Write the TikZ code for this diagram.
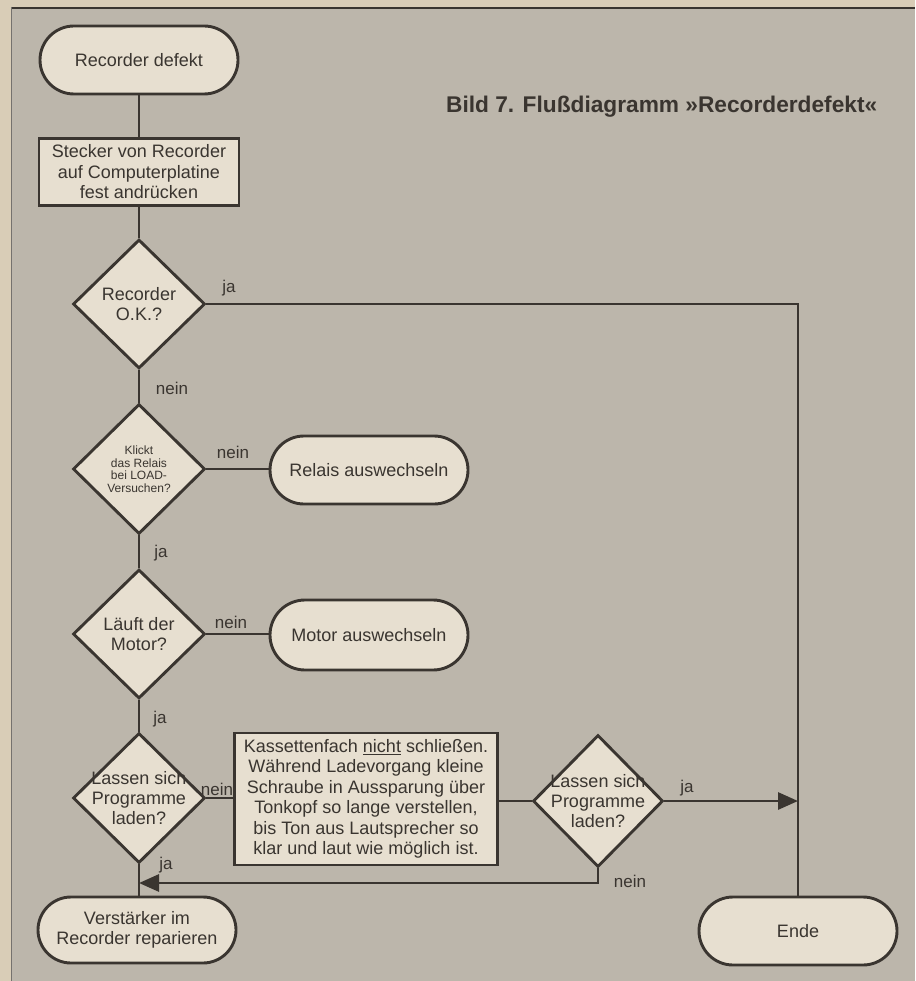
\documentclass[tikz,border=0pt]{standalone}
\usepackage{fontspec}
\setmainfont{Liberation Sans}
\usetikzlibrary{shapes.geometric,arrows.meta}
\definecolor{paper}{HTML}{D9CDB7}
\definecolor{panel}{HTML}{BCB6AB}
\definecolor{boxfill}{HTML}{E7DFD0}
\definecolor{ink}{HTML}{3A3530}
\tikzset{
  base/.style={draw=ink, line width=2.9pt, fill=boxfill, text=ink, align=center, inner sep=0pt},
  term/.style={base, rectangle, rounded corners=34pt, minimum width=198pt, minimum height=68pt, font=\fontsize{18}{20}\selectfont},
  procbox/.style={base, rectangle, font=\fontsize{18}{20.5}\selectfont},
  dia/.style={base, diamond, minimum width=132pt, minimum height=129pt},
  dtext/.style={text=ink, align=center, inner sep=0pt, font=\fontsize{18}{20}\selectfont},
  dsmall/.style={text=ink, align=center, inner sep=0pt, font=\fontsize{12}{12.5}\selectfont},
  lbl/.style={text=ink, inner sep=0pt, font=\fontsize{17}{19}\selectfont},
  conn/.style={draw=ink, line width=2.9pt},
  arr/.style={conn, -{Triangle[length=20pt,width=17pt]}}
}
\begin{document}
\begin{tikzpicture}[x=1pt,y=-1pt]
\useasboundingbox (0,0) rectangle (915,981);
\fill[paper] (0,0) rectangle (915,981);
\fill[panel] (11,7) rectangle (915,981);
\draw[ink, line width=2pt] (11,8) -- (915,8);
\draw[ink!70, line width=1pt] (11.5,7) -- (11.5,981);

\node[text=ink, anchor=base west, inner sep=0pt, font=\fontsize{22.7}{24}\selectfont\bfseries] (title) at (446,113) {Bild 7. Flußdiagramm »Recorderdefekt«};

\node[term] (start) at (139,60) {Recorder defekt};
\node[procbox, minimum width=200pt, minimum height=67pt] (stecker) at (139,172) {Stecker von Recorder\\auf Computerplatine\\fest andrücken};
\node[dia] (d1) at (139,304) {};
\node[dtext] (d1t) at (d1) {Recorder\\O.K.?};
\node[dia, minimum height=130pt] (d2) at (139,469) {};
\node[dsmall] (d2t) at (d2) {Klickt\\das Relais\\bei LOAD-\\Versuchen?};
\node[term] (relais) at (369,470) {Relais auswechseln};
\node[dia] (d3) at (139,634) {};
\node[dtext] (d3t) at (d3) {Läuft der\\Motor?};
\node[term, minimum height=70pt, rounded corners=35pt] (motor) at (369,635) {Motor auswechseln};
\node[dia, minimum height=130pt] (d4) at (139,798) {};
\node[dtext] (d4t) at (d4) {Lassen sich\\Programme\\laden?};
\node[procbox, minimum width=263pt, minimum height=132pt] (kass) at (366,799) {Kassettenfach \underline{nicht} schließen.\\Während Ladevorgang kleine\\Schraube in Aussparung über\\Tonkopf so lange verstellen,\\bis Ton aus Lautsprecher so\\klar und laut wie möglich ist.};
\node[dia, minimum width=130pt, minimum height=132pt] (d5) at (598,801) {};
\node[dtext] (d5t) at (d5) {Lassen sich\\Programme\\laden?};
\node[term, minimum height=66pt, rounded corners=33pt] (verst) at (137,930) {Verstärker im\\Recorder reparieren};
\node[term] (ende) at (798,931) {Ende};

\coordinate (merge) at (139,883);

\draw[conn] (start) -- (stecker);
\draw[conn] (stecker) -- (d1);
\draw[conn] (d1.east) -| (ende.north);
\draw[conn] (d1) -- (d2);
\draw[conn] (d2.east) -- (relais.west |- d2.east);
\draw[conn] (d2) -- (d3);
\draw[conn] (d3.east) -- (motor.west |- d3.east);
\draw[conn] (d3) -- (d4);
\draw[conn] (d4.east) -- (kass.west |- d4.east);
\draw[conn] (kass.east |- d5.west) -- (d5.west);
\draw[conn] (d4.south) -- (verst.north -| d4.south);
\draw[arr] (d5.east) -- (d5.east -| ende.north);
\draw[arr] (d5.south) |- (merge);

\node[lbl] (l1) at (229,288) {ja};
\node[lbl] (l2) at (172,388) {nein};
\node[lbl] (l3) at (233,452) {nein};
\node[lbl] (l4) at (161,553) {ja};
\node[lbl] (l5) at (231,622) {nein};
\node[lbl] (l6) at (160,719) {ja};
\node[lbl] (l7) at (217,789) {nein};
\node[lbl] (l8) at (687,788) {ja};
\node[lbl] (l9) at (630,881) {nein};
\node[lbl] (l10) at (166,865) {ja};
\end{tikzpicture}
\end{document}
